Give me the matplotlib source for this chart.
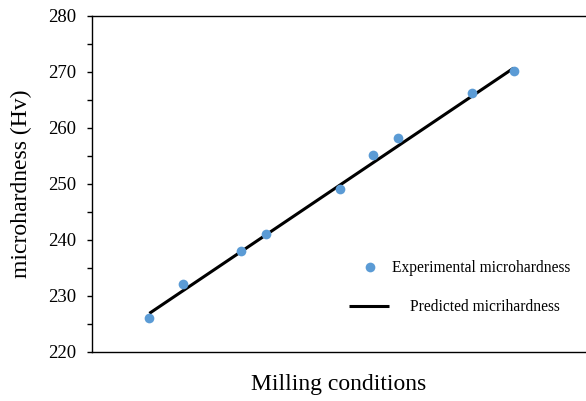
import matplotlib
matplotlib.use("Agg")
import matplotlib.pyplot as plt
from matplotlib.ticker import MultipleLocator

plt.rcParams['font.family'] = ['Liberation Serif', 'DejaVu Serif']

# Predicted microhardness for each milling condition (used as x position)
predicted = [226.9, 230.9, 237.9, 240.9, 249.8, 253.8, 256.8, 265.7, 270.7]
# Measured microhardness for the same conditions
experimental = [226.1, 232.1, 238.1, 241.1, 249.1, 255.2, 258.3, 266.2, 270.2]

y_ticks = [220, 230, 240, 250, 260, 270, 280]

fig = plt.figure(figsize=(5.86, 4.01), dpi=100)
ax = fig.add_axes([92 / 586, 1 - 352 / 401, 494 / 586, 336 / 401])

blue = '#5B9BD5'
pts, = ax.plot(predicted, experimental, linestyle='none', marker='o',
               markersize=7, color=blue, markeredgewidth=0,
               label='Experimental microhardness', zorder=3)
line, = ax.plot([predicted[0], predicted[-1]], [predicted[0], predicted[-1]],
                color='black', linewidth=2.2, solid_capstyle='butt',
                label='Predicted micrihardness', zorder=2)

ax.set_xlim(220, 279.4)
ax.set_ylim(220, 280)
ax.set_yticks(y_ticks)
ax.set_yticklabels([str(v) for v in y_ticks])
ax.yaxis.set_minor_locator(MultipleLocator(5))
ax.set_xticks([])
ax.tick_params(axis='y', which='both', direction='out', length=5 / 1.389,
               width=1, pad=8, labelsize=13.5, color='black')

for side in ('left', 'bottom', 'top'):
    ax.spines[side].set_linewidth(1.0)
    ax.spines[side].set_color('black')
ax.spines['right'].set_visible(False)

ax.set_xlabel('Milling conditions', fontsize=17, labelpad=16)
ax.set_ylabel('microhardness (Hv)', fontsize=17, labelpad=11)

leg1 = ax.legend(handles=[pts], loc='center left',
                 bbox_to_anchor=((350 - 92) / 494, (352 - 268) / 336),
                 frameon=False, borderpad=0, borderaxespad=0,
                 handlelength=2.6, handletextpad=0.1, fontsize=11.2)
ax.add_artist(leg1)
ax.legend(handles=[line], loc='center left',
          bbox_to_anchor=((349 - 92) / 494, (352 - 307) / 336),
          frameon=False, borderpad=0, borderaxespad=0,
          handlelength=2.6, handletextpad=1.3, fontsize=11.2)

fig.savefig('out.png', dpi=100)
